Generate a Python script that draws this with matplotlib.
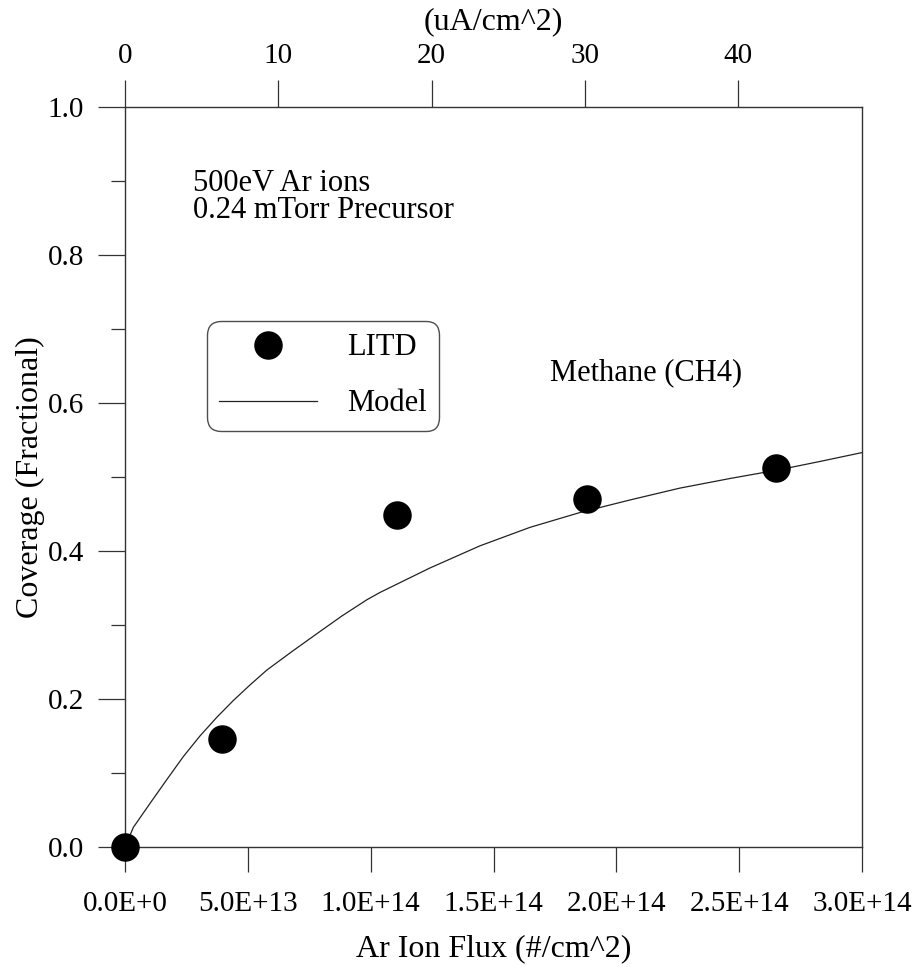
import matplotlib
matplotlib.use("Agg")
import matplotlib.pyplot as plt
import numpy as np

plt.rcParams['font.family'] = ['Liberation Serif', 'DejaVu Serif']

# Data
litd_flux = [0.0, 3.95e13, 1.107e14, 1.88e14, 2.65e14]
litd_cov = [0.0, 0.146, 0.449, 0.470, 0.512]

model_flux = [0.0, 0.034e14, 0.102e14, 0.170e14, 0.237e14, 0.305e14, 0.373e14,
              0.441e14, 0.509e14, 0.577e14, 0.679e14, 0.780e14, 0.882e14,
              0.984e14, 1.038e14, 1.241e14, 1.445e14, 1.649e14, 1.852e14,
              2.056e14, 2.259e14, 2.463e14, 2.666e14, 2.829e14, 3.0e14]
model_cov = [0.0, 0.0265, 0.059, 0.091, 0.122, 0.150, 0.175,
             0.198, 0.219, 0.239, 0.264, 0.288, 0.312,
             0.334, 0.344, 0.377, 0.407, 0.432, 0.452,
             0.469, 0.485, 0.498, 0.510, 0.521, 0.533]

x_ticks = [0.0, 5.0e13, 1.0e14, 1.5e14, 2.0e14, 2.5e14, 3.0e14]
x_ticklabels = ["0.0E+0", "5.0E+13", "1.0E+14", "1.5E+14", "2.0E+14", "2.5E+14", "3.0E+14"]
y_ticks = [0.0, 0.2, 0.4, 0.6, 0.8, 1.0]
y_ticklabels = ["0.0", "0.2", "0.4", "0.6", "0.8", "1.0"]
top_ticks = [0, 10, 20, 30, 40]

Q = 1.602e-19 * 1e6  # ions/cm^2 -> uA/cm^2 conversion

fig = plt.figure(figsize=(9.13, 9.67), dpi=100)
ax = fig.add_axes([125/913, 1 - 847/967, 737/913, 740/967])

spine_col = "#333333"
line_model, = ax.plot(model_flux, model_cov, color="#222222", lw=0.9,
                      label="Model", zorder=2)
pts_litd, = ax.plot(litd_flux, litd_cov, 'o', color="black", ms=19.5,
                    label="LITD", zorder=3, clip_on=False)

ax.set_xlim(0, 3.0e14)
ax.set_ylim(0, 1.0)

ax.set_xticks(x_ticks)
ax.set_xticklabels(x_ticklabels, fontsize=21)
ax.set_yticks(y_ticks)
ax.set_yticklabels(y_ticklabels, fontsize=21)
ax.set_yticks(np.arange(0.1, 1.0, 0.2), minor=True)
ax.tick_params(axis='x', which='major', direction='out', length=18, width=0.9,
               color=spine_col, pad=14)
ax.tick_params(axis='y', which='major', direction='out', length=19.5, width=0.9,
               color=spine_col, pad=10)
ax.tick_params(axis='y', which='minor', direction='out', length=10, width=0.9,
               color=spine_col)

for s in ax.spines.values():
    s.set_color(spine_col)
    s.set_linewidth(1.0)

ax.set_xlabel("Ar Ion Flux (#/cm^2)", fontsize=23, labelpad=12)
ax.set_ylabel("Coverage (Fractional)", fontsize=23, labelpad=2)

sec = ax.secondary_xaxis('top', functions=(lambda f: f * Q, lambda i: i / Q))
sec.set_xticks(top_ticks)
sec.set_xticklabels([str(t) for t in top_ticks], fontsize=21)
sec.tick_params(direction='out', length=19.5, width=0.9, color=spine_col, pad=8)
sec.spines['top'].set_visible(False)
sec.set_xlabel("(uA/cm^2)", fontsize=23, labelpad=10)

ax.text(0.277e14, 0.897, "500eV Ar ions", fontsize=22, va='center', ha='left')
ax.text(0.277e14, 0.860, "0.24 mTorr Precursor", fontsize=22, va='center', ha='left')
ax.text(1.73e14, 0.641, "Methane (CH4)", fontsize=22, va='center', ha='left')

leg = ax.legend(handles=[pts_litd, line_model], loc='upper left',
                bbox_to_anchor=(82/737, (847-321)/740), fontsize=22,
                handlelength=3.2, handletextpad=1.0, labelspacing=0.89,
                borderpad=0.4, borderaxespad=0, frameon=True, fancybox=True,
                numpoints=1, markerscale=1.0)
leg.get_frame().set_edgecolor("#222222")
leg.get_frame().set_linewidth(1.0)
leg.get_frame().set_boxstyle("round,pad=0,rounding_size=0.45")

fig.savefig("out.png", dpi=100, facecolor="white")
